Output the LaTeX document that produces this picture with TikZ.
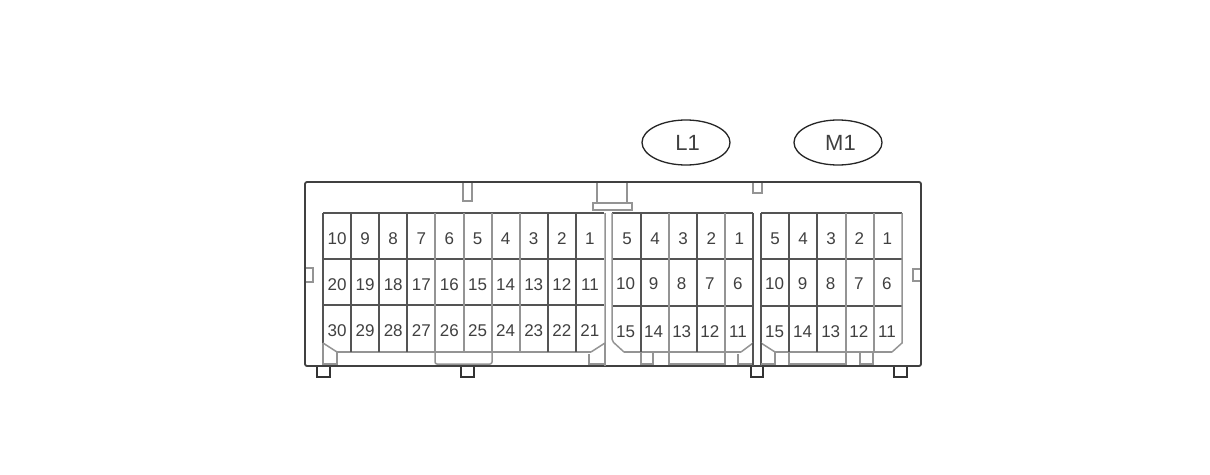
\documentclass[tikz,border=0pt]{standalone}
\usepackage{fontspec}
\setmainfont{Liberation Sans}
\usetikzlibrary{shapes.geometric}
\definecolor{inkline}{gray}{0.33}
\definecolor{softline}{gray}{0.58}
\definecolor{inktext}{gray}{0.25}
\tikzset{
    pinlabel/.style={inner sep=0pt, text=inktext, text height=12pt, text depth=0pt, font=\fontsize{17}{17}\selectfont},
    plugtag/.style={ellipse, draw=black!85, line width=1.3pt, minimum width=88pt, minimum height=45pt, inner sep=0pt, text=inktext, font=\fontsize{22}{22}\selectfont},
    body/.style={draw=black!75, line width=1.8pt},
    foot/.style={draw=black!80, line width=1.5pt},
    grid/.style={draw=inkline, line width=1.1pt},
    soft/.style={draw=softline, line width=1.5pt},
}
\begin{document}
\begin{tikzpicture}[x=1pt, y=-1pt]
        \useasboundingbox (0, 0) rectangle (1210, 474);
        \fill[white] (0, 0) rectangle (1210, 474);

        % housing
        \draw[body, rounded corners=2pt] (305, 182) -- (921, 182) -- (921, 366) -- (305, 366) -- cycle;
        \draw[soft] (463, 183) -- (463, 201) -- (472, 201) -- (472, 183);
        \draw[soft] (753, 183) -- (753, 193) -- (762, 193) -- (762, 183);
        \draw[soft] (306, 268) -- (313, 268) -- (313, 282) -- (306, 282);
        \draw[soft] (920, 269) -- (913, 269) -- (913, 281) -- (920, 281);
        \draw[soft] (597, 183) -- (597, 203);
        \draw[soft] (627, 183) -- (627, 203);
        \draw[soft] (593, 203) rectangle (632, 210);

        % feet
        \draw[foot] (317, 367) -- (317, 377) -- (330, 377) -- (330, 367);
        \draw[foot] (461, 367) -- (461, 377) -- (474, 377) -- (474, 367);
        \draw[foot] (751, 367) -- (751, 377) -- (763, 377) -- (763, 367);
        \draw[foot] (894, 367) -- (894, 377) -- (907, 377) -- (907, 367);

        % left block
        \draw[grid] (323, 213) -- (604, 213);
        \draw[grid] (323, 259) -- (604, 259);
        \draw[grid] (323, 305) -- (604, 305);
        \draw[soft] (337, 352) -- (591, 352);
        \draw[grid] (323, 213) -- (323, 343);
        \draw[soft] (323, 343) -- (337, 352);
        \draw[soft] (605, 213) -- (605, 343) -- (591, 352);
        \foreach \x in {351, 379, 407, 548, 576} {
            \draw[grid] (\x, 213) -- (\x, 352);
        }
        \foreach \x in {435, 464, 492, 520} {
            \draw[soft] (\x, 213) -- (\x, 352);
        }
        \draw[soft] (323, 343) -- (323, 364) -- (337, 364) -- (337, 352);
        \draw[soft, rounded corners=2pt] (435, 352) -- (435, 364) -- (492, 364) -- (492, 352);
        \draw[soft] (589, 354) -- (589, 364) -- (605, 364);
        \draw[soft] (605, 343) -- (605, 366);

        % middle block
        \draw[grid] (612, 213) -- (753, 213);
        \draw[grid] (612, 259) -- (753, 259);
        \draw[grid] (612, 306) -- (753, 306);
        \draw[soft] (624, 352) -- (741, 352);
        \draw[soft, rounded corners=2pt] (612, 213) -- (612, 341) -- (624, 352);
        \draw[grid] (753, 213) -- (753, 343);
        \draw[soft] (753, 343) -- (741, 352);
        \foreach \x in {641, 697} {
            \draw[grid] (\x, 213) -- (\x, 352);
        }
        \foreach \x in {669, 725} {
            \draw[soft] (\x, 213) -- (\x, 352);
        }
        \draw[soft] (641, 352) -- (641, 364) -- (653, 364) -- (653, 352);
        \draw[soft] (669, 352) -- (669, 364) -- (725, 364) -- (725, 352);
        \draw[soft] (738, 354) -- (738, 364) -- (753, 364);
        \draw[grid] (753, 343) -- (753, 366);

        % right block
        \draw[grid] (761, 213) -- (902, 213);
        \draw[grid] (761, 259) -- (902, 259);
        \draw[grid] (761, 306) -- (902, 306);
        \draw[soft] (775, 352) -- (892, 352);
        \draw[grid] (761, 213) -- (761, 343);
        \draw[soft] (761, 343) -- (775, 352);
        \draw[soft] (902, 213) -- (902, 343) -- (892, 352);
        \foreach \x in {789, 817} {
            \draw[grid] (\x, 213) -- (\x, 352);
        }
        \foreach \x in {846, 874} {
            \draw[soft] (\x, 213) -- (\x, 352);
        }
        \draw[grid] (761, 343) -- (761, 366);
        \draw[soft] (761, 364) -- (775, 364) -- (775, 352);
        \draw[soft] (789, 352) -- (789, 364) -- (846, 364) -- (846, 352);
        \draw[soft] (860, 352) -- (860, 364) -- (873, 364) -- (873, 352);

        % pin numbers
        \foreach \n [count=\i from 0] in {10, 9, 8, 7, 6, 5, 4, 3, 2, 1} {
            \node[pinlabel] (top\n) at (337 + 28.1 * \i, 238) {\n};
        }
        \foreach \n [count=\i from 0] in {20, 19, 18, 17, 16, 15, 14, 13, 12, 11} {
            \node[pinlabel] (mid\n) at (337 + 28.1 * \i, 284.5) {\n};
        }
        \foreach \n [count=\i from 0] in {30, 29, 28, 27, 26, 25, 24, 23, 22, 21} {
            \node[pinlabel] (low\n) at (337 + 28.1 * \i, 330.5) {\n};
        }
        \foreach \n [count=\i from 0] in {5, 4, 3, 2, 1} {
            \node[pinlabel] (la\n) at (627 + 28.1 * \i, 238) {\n};
            \node[pinlabel] (ma\n) at (775 + 28.1 * \i, 238) {\n};
        }
        \foreach \n [count=\i from 0] in {10, 9, 8, 7, 6} {
            \node[pinlabel] (lb\n) at (625.5 + 28.1 * \i, 283.5) {\n};
            \node[pinlabel] (mb\n) at (774.5 + 28.1 * \i, 283.5) {\n};
        }
        \foreach \n [count=\i from 0] in {15, 14, 13, 12, 11} {
            \node[pinlabel] (lc\n) at (625.5 + 28.1 * \i, 331) {\n};
            \node[pinlabel] (mc\n) at (774.5 + 28.1 * \i, 331) {\n};
        }

        % connector tags
        \node[plugtag] (tagL) at (686, 142.5) {\hspace{3pt}L1};
        \node[plugtag] (tagM) at (838, 142.5) {\hspace{5pt}M1};
    \end{tikzpicture}
\end{document}
